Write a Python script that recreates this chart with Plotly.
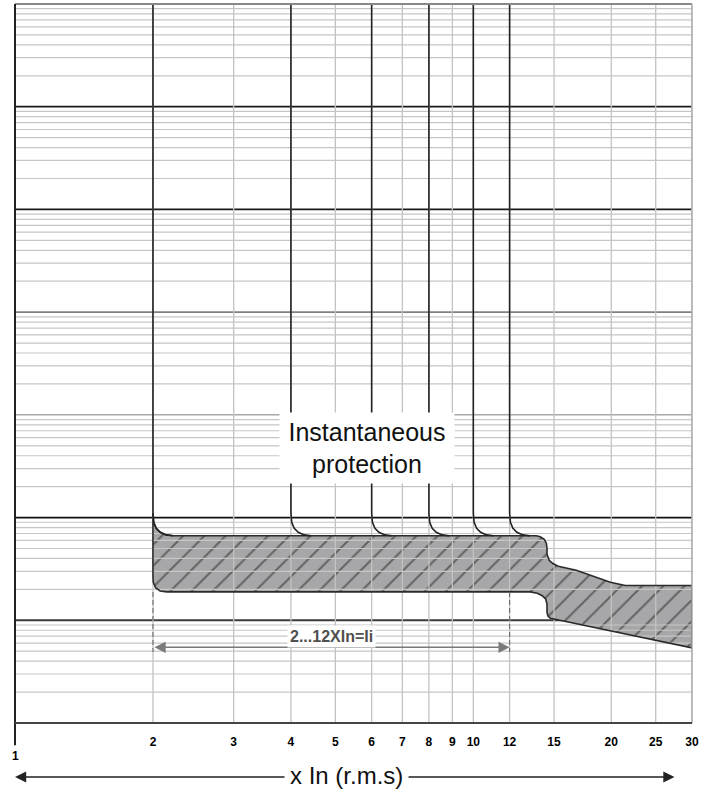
import numpy as np
import plotly.graph_objects as go

# ---------------- data ----------------
x_tick_vals = [2, 3, 4, 5, 6, 7, 8, 9, 10, 12, 15, 20, 25, 30]
x_tick_text = ["<b>%d</b>" % v for v in x_tick_vals]
x_min, x_max = 1, 30
y_min, y_max = 1e-3, 1e4

decade_values = [1e3, 1e2, 1e1, 1e0, 1e-1, 1e-2]
decade_colors = ["#1a1a1a", "#1a1a1a", "#808080", "#a8a8a8", "#111111", "#3a3a3a"]
decade_widths = [1.8, 1.8, 1.8, 1.5, 1.8, 2.0]
minor_multipliers = [2, 3, 4, 5, 6, 7, 8, 9]
minor_decades = [1e-3, 1e-2, 1e-1, 1e0, 1e1, 1e2, 1e3]

# instantaneous settings (x In) and the shape of each release curve
settings = [2, 4, 6, 8, 10, 12]
curve_profile_x = [1.0, 1.0, 1.004, 1.0167, 1.0374, 1.069, 1.107]
curve_profile_y = [1e4, 0.110, 0.090, 0.0788, 0.0720, 0.0678, 0.0666]

# tripping band outline
band_x = [2.0, 2.006, 2.031, 2.073, 2.136, 2.213, 13.72, 14.0, 14.28, 14.43, 14.48,
          14.48, 14.64, 14.94, 15.32, 15.95, 16.77, 19.90, 21.46, 30.0, 30.0,
          15.17, 14.72, 14.54, 14.48, 14.48, 14.39, 14.14, 13.79, 13.31, 2.144,
          2.073, 2.026, 2.003, 2.0, 2.0]
band_y = [0.110, 0.090, 0.0788, 0.0720, 0.0678, 0.0666, 0.0666, 0.0651, 0.0615, 0.0563, 0.0503,
          0.0440, 0.0384, 0.0355, 0.0336, 0.0325, 0.0307, 0.0235, 0.0218, 0.0218, 0.00538,
          0.01017, 0.01047, 0.01107, 0.01197, 0.01433, 0.01602, 0.01734, 0.01834, 0.0189, 0.0189,
          0.01927, 0.02074, 0.02346, 0.02685, 0.110]

range_lo, range_hi = 2, 12
range_arrow_y = 0.00546
range_dash_top = 0.0189
range_dash_bottom = 0.0049
range_label_y = 0.00700
range_label = "2...12XIn=Ii"

inst_label = "Instantaneous<br>protection"
inst_label_x, inst_label_y = 5.85, 0.48
axis_title = "x In (r.m.s)"

FONT = "Liberation Sans, Arial, sans-serif"

fig = go.Figure()

# decade lines (below band)
for v, c, w in zip(decade_values, decade_colors, decade_widths):
    fig.add_trace(go.Scatter(x=[x_min, x_max], y=[v, v], mode="lines",
                             line=dict(color=c, width=w), hoverinfo="skip", showlegend=False))

# band fill
fig.add_trace(go.Scatter(x=band_x, y=band_y, mode="lines", fill="toself",
                         fillcolor="#a7a7a9",
                         fillpattern=dict(shape="/", fgcolor="#1e1e1e", bgcolor="#a7a7a9",
                                          size=15, solidity=0.13),
                         line=dict(width=0, color="rgba(0,0,0,0)"),
                         hoverinfo="skip", showlegend=False))

# light grid lines (drawn above the fill)
gx, gy = [], []
for v in x_tick_vals:
    gx += [v, v, None]
    gy += [y_min, y_max, None]
fig.add_trace(go.Scatter(x=gx, y=gy, mode="lines", line=dict(color="#c2c2c2", width=1.3),
                         hoverinfo="skip", showlegend=False))
hx, hy = [], []
for d in minor_decades:
    for m in minor_multipliers:
        hx += [x_min, x_max, None]
        hy += [m * d, m * d, None]
fig.add_trace(go.Scatter(x=hx, y=hy, mode="lines", line=dict(color="#c6c6c6", width=1.2),
                         hoverinfo="skip", showlegend=False))

# band outline
fig.add_trace(go.Scatter(x=band_x, y=band_y, mode="lines",
                         line=dict(color="#2b2b2b", width=1.6),
                         hoverinfo="skip", showlegend=False))

# instantaneous release curves
for k in settings:
    fig.add_trace(go.Scatter(x=[k * p for p in curve_profile_x], y=curve_profile_y,
                             mode="lines", line=dict(color="#222222", width=1.6),
                             hoverinfo="skip", showlegend=False))

# dashed range markers
for k in [range_lo, range_hi]:
    fig.add_trace(go.Scatter(x=[k, k], y=[range_dash_top, range_dash_bottom], mode="lines",
                             line=dict(color="#6a6a6a", width=1.1, dash="5px,3px"),
                             hoverinfo="skip", showlegend=False))

annotations = [
    dict(x=np.log10(inst_label_x), y=np.log10(inst_label_y), xref="x", yref="y",
         text=inst_label, showarrow=False, bgcolor="white", width=166, height=62,
         borderpad=4, font=dict(family=FONT, size=25, color="#111")),
    dict(x=np.log10(range_hi), y=np.log10(range_arrow_y), xref="x", yref="y",
         ax=np.log10(range_lo), ay=np.log10(range_arrow_y), axref="x", ayref="y",
         text="", showarrow=True, arrowhead=2, arrowside="end+start",
         arrowsize=1.6, arrowwidth=1.4, arrowcolor="#7a7a7a"),
    dict(x=np.log10(np.sqrt(range_lo * range_hi)), y=np.log10(range_label_y), xref="x", yref="y",
         text="<b>%s</b>" % range_label, showarrow=False, bgcolor="white", borderpad=2,
         font=dict(family=FONT, size=16, color="#505050")),
    dict(x=0, y=-0.0463, xref="paper", yref="paper", text="<b>1</b>", showarrow=False,
         xanchor="center", yanchor="middle",
         font=dict(family=FONT, size=12, color="black")),
    dict(x=0, y=-0.0751, xref="paper", yref="paper", ax=661, ay=0, text="",
         showarrow=True, arrowhead=2, arrowside="end+start", arrowsize=1.4,
         arrowwidth=1.6, arrowcolor="#222"),
    dict(x=0.490, y=-0.0735, xref="paper", yref="paper", text=axis_title, showarrow=False,
         xanchor="center", yanchor="middle",
         bgcolor="white", borderpad=5, font=dict(family=FONT, size=24, color="#111")),
]

shapes = [
    dict(type="line", xref="paper", yref="paper", x0=0, x1=1, y0=1, y1=1,
         line=dict(color="#888888", width=2)),
    dict(type="line", xref="paper", yref="paper", x0=1, x1=1, y0=0, y1=1,
         line=dict(color="#aaaaaa", width=1.5)),
    dict(type="line", xref="paper", yref="paper", x0=0, x1=0, y0=-0.031, y1=1,
         line=dict(color="#222222", width=2)),
    dict(type="line", xref="paper", yref="paper", x0=0, x1=1, y0=0, y1=0,
         line=dict(color="#444444", width=2)),
]

fig.update_layout(
    width=709, height=795, autosize=False,
    margin=dict(l=15, r=17, t=4, b=72),
    plot_bgcolor="white", paper_bgcolor="white",
    showlegend=False,
    annotations=annotations, shapes=shapes,
    xaxis=dict(type="log", range=[np.log10(x_min), np.log10(x_max)],
               tickvals=x_tick_vals, ticktext=x_tick_text, showgrid=False,
               zeroline=False, showline=False, ticks="", ticklabelstandoff=10,
               tickfont=dict(family=FONT, size=12, color="black")),
    yaxis=dict(type="log", range=[np.log10(y_min), np.log10(y_max)],
               showticklabels=False, showgrid=False, zeroline=False,
               showline=False, ticks=""),
)

fig.write_html("out.html", config={"displayModeBar": False},
               post_script="document.body.style.margin='0px';document.body.style.overflow='hidden';")
